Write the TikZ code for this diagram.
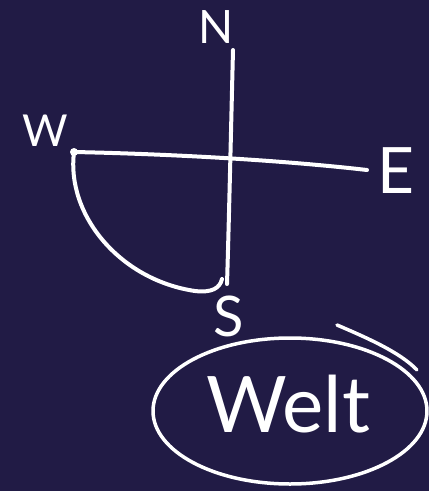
\documentclass[tikz,border=0pt]{standalone}
\usepackage{fontspec}
\setmainfont{Lato}
\definecolor{bg}{RGB}{33,27,69}
\begin{document}
\begin{tikzpicture}[x=1pt,y=-1pt,
  stroke/.style={white, line width=4pt, line cap=round, line join=round},
  lbl/.style={text=white, inner sep=0pt, anchor=center}]
\fill[bg] (0,0) rectangle (429,491);
\useasboundingbox (0,0) rectangle (429,491);
% labels
\node[lbl, font=\fontsize{46}{46}\selectfont] (N) at (216,27) {N};
\node[lbl, font=\fontsize{44}{44}\selectfont] (W) at (45,131) {W};
\node[lbl, font=\fontsize{64}{64}\selectfont] (E) at (396,171) {E};
\node[lbl, font=\fontsize{56}{56}\selectfont] (S) at (229,316) {S};
\node[lbl, font=\fontsize{78}{78}\selectfont] (welt) at (288,404) {Welt};
% axis ends
\coordinate (top) at (233,50);
\coordinate (bot) at (227,284);
\coordinate (west) at (74,152);
\coordinate (east) at (367,170);
\coordinate (arcend) at (222,279);
\coordinate (tailA) at (337,325);
\coordinate (tailB) at (417,370);
% axes
\draw[stroke] (top) .. controls (231,130) and (229,220) .. (bot);
\draw[stroke] (west) .. controls (170,154) and (280,160) .. (east);
\fill[white] (west) circle (4pt);
% quarter arc W to S
\draw[stroke] (west) .. controls (66,215) and (120,280) .. (195,291) .. controls (212,293) and (220,288) .. (arcend);
% ellipse around Welt
\draw[stroke, line width=3.5pt] (welt) ++(2,7) ellipse [x radius=137, y radius=73];
\draw[stroke, line width=3.5pt] (tailA) .. controls (365,337) and (400,352) .. (tailB);
\end{tikzpicture}
\end{document}
